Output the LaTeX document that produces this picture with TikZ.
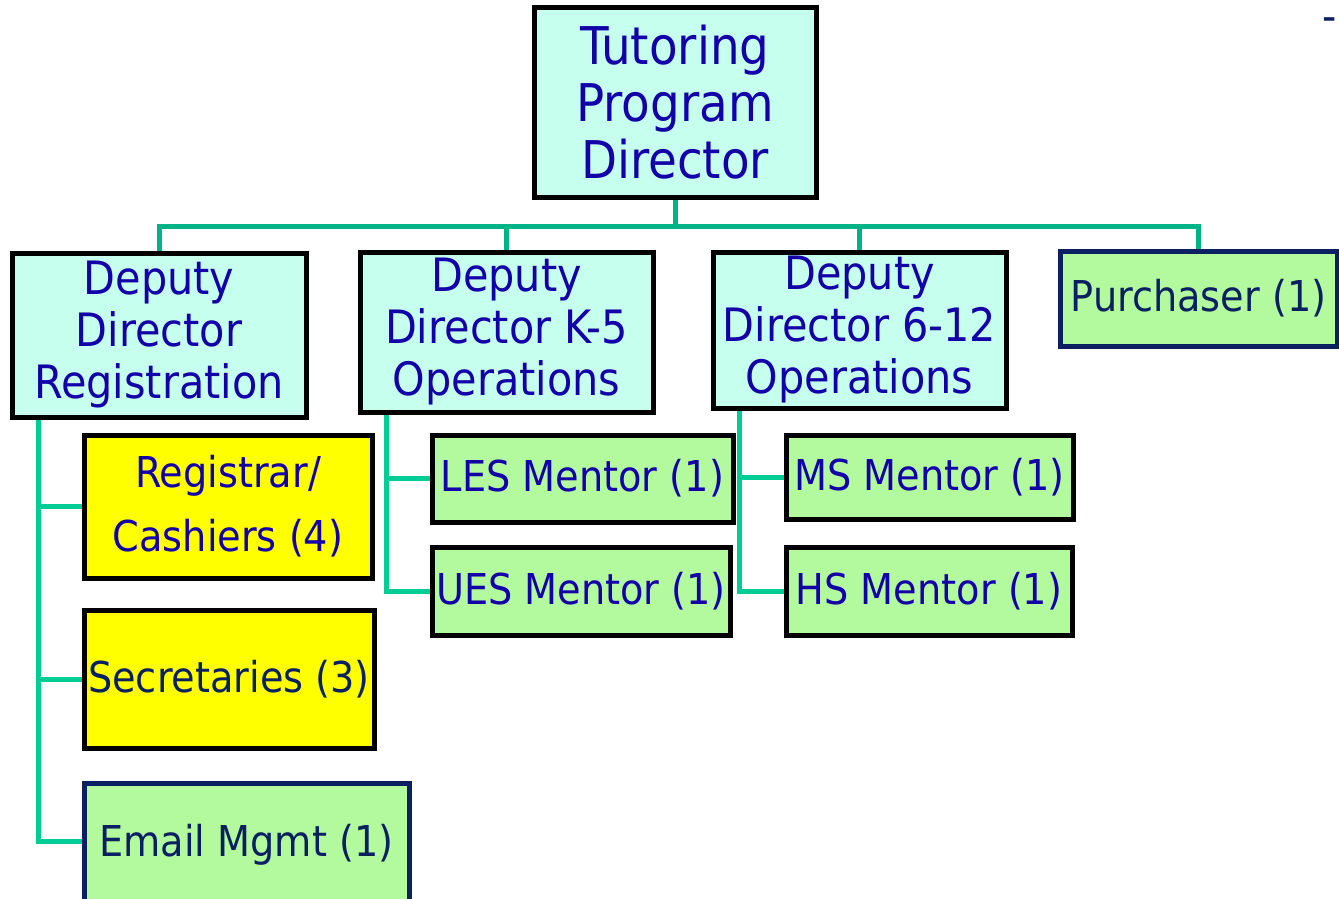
\documentclass[tikz,border=0pt]{standalone}
\usepackage{fontspec}
\setmainfont{DejaVu Sans Condensed}
\usetikzlibrary{backgrounds}
\definecolor{boxcyan}{HTML}{C6FFEE}
\definecolor{boxgreen}{HTML}{B3F99D}
\definecolor{boxyellow}{HTML}{FFFF00}
\definecolor{txtblue}{HTML}{1400A8}
\definecolor{txtnavy}{HTML}{0B2060}
\definecolor{busgreen}{HTML}{00B386}
\definecolor{linegreen}{HTML}{00CC96}

\begin{document}
\begin{tikzpicture}[x=1pt,y=-1pt]
\tikzstyle{box}=[draw=black,line width=5pt,inner sep=0pt,align=center,text=txtblue]
\tikzstyle{head}=[box,fill=boxcyan,font=\fontsize{52}{57}\selectfont]
\tikzstyle{deputy}=[box,fill=boxcyan,font=\fontsize{46}{52}\selectfont]
\tikzstyle{mentor}=[box,fill=boxgreen,font=\fontsize{42.5}{50}\selectfont]
\tikzstyle{clerk}=[box,fill=boxyellow,font=\fontsize{42.5}{64}\selectfont]
\tikzstyle{navybox}=[draw=txtnavy,text=txtnavy]
\tikzstyle{bus}=[draw=busgreen,line width=5pt]
\tikzstyle{branch}=[draw=linegreen,line width=5pt]
\useasboundingbox (0,0) rectangle (1339,899);

\node[head,minimum width=282pt,minimum height=189pt] (top) at (675,102.5) {Tutoring\\Program\\Director};

\node[deputy,minimum width=294pt,minimum height=164pt] (ddr) at (159,335) {Deputy\\Director\\Registration};
\node[deputy,minimum width=293pt,minimum height=160pt] (dk5) at (506.5,332) {Deputy\\Director K-5\\Operations};
\node[deputy,minimum width=293pt,minimum height=156pt] (d612) at (859.5,330) {Deputy\\Director 6-12\\Operations};
\node[mentor,navybox,minimum width=277pt,minimum height=95pt] (purch) at (1198.5,298.5) {Purchaser (1)};

\node[clerk,minimum width=288pt,minimum height=143pt] (reg) at (228,506.5) {Registrar/\\Cashiers (4)};
\node[clerk,text=txtnavy,minimum width=290pt,minimum height=138pt] (sec) at (229,679) {Secretaries (3)};
\node[mentor,navybox,minimum width=325pt,minimum height=124pt] (email) at (246.5,845) {Email Mgmt (1)};

\node[mentor,minimum width=301pt,minimum height=87pt] (les) at (582.5,478.5) {LES Mentor (1)};
\node[mentor,minimum width=298pt,minimum height=88pt] (ues) at (581,591) {UES Mentor (1)};
\node[mentor,minimum width=287pt,minimum height=84pt] (ms) at (929.5,477) {MS Mentor (1)};
\node[mentor,minimum width=286pt,minimum height=88pt] (hs) at (929,591) {HS Mentor (1)};

\node[text=txtnavy,font=\fontsize{44}{50}\selectfont,anchor=base,inner sep=0pt] (dash) at (1329.5,32) {-};

\begin{scope}[on background layer]
% top level bus
\draw[bus] (top.south) -- ++(0,27) -| (ddr.north);
\draw[bus] (top.south) -- ++(0,27) -| (dk5.north);
\draw[bus] (top.south) -- ++(0,27) -| (d612.north);
\draw[bus] (top.south) -- ++(0,27) -| (purch.north);
% side trunks
\coordinate (ddrT) at ([xshift=29pt]ddr.south west);
\coordinate (dk5T) at ([xshift=29pt]dk5.south west);
\coordinate (d612T) at ([xshift=29pt]d612.south west);
\draw[branch] (ddrT) |- (reg.west);
\draw[branch] (ddrT) |- (sec.west);
\draw[branch] (ddrT) |- ([yshift=4pt]email.west);
\draw[branch] (dk5T) |- (les.west);
\draw[branch] (dk5T) |- (ues.west);
\draw[branch] (d612T) |- (ms.west);
\draw[branch] (d612T) |- (hs.west);
\end{scope}
\end{tikzpicture}
\end{document}
